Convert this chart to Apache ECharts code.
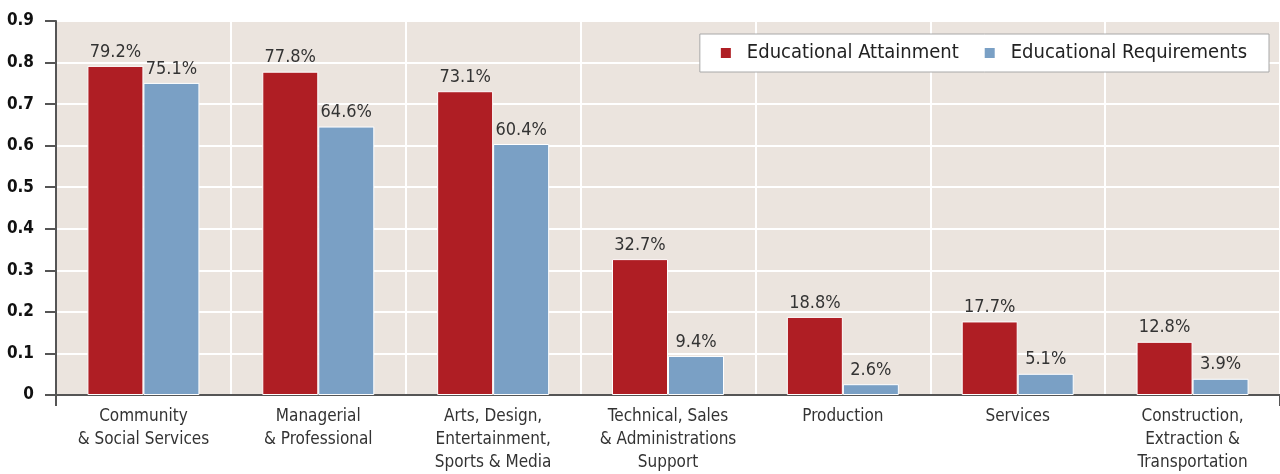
<!DOCTYPE html>
<html>
<head>
<meta charset="utf-8">
<script src="https://cdn.jsdelivr.net/npm/echarts@6/dist/echarts.min.js"></script>
<style>
  html, body { margin: 0; padding: 0; background: #ffffff; }
  #chart { width: 1280px; height: 474px; }
</style>
</head>
<body>
<div id="chart"></div>
<script>
// Occupation groups along the x axis
const categories = [
  'Community\n& Social Services',
  'Managerial\n& Professional',
  'Arts, Design,\nEntertainment,\nSports & Media',
  'Technical, Sales\n& Administrations\nSupport',
  'Production',
  'Services',
  'Construction,\nExtraction &\nTransportation'
];

// Share of workers (fraction) by series
const attainment = [0.792, 0.778, 0.731, 0.327, 0.188, 0.177, 0.128];
const requirements = [0.751, 0.646, 0.604, 0.094, 0.026, 0.051, 0.039];

const seriesNames = ['Educational Attainment', 'Educational Requirements'];

const FONT = '"DejaVu Sans Condensed", "Liberation Sans", sans-serif';
const RED = '#af1e24';
const BLUE = '#7aa0c5';

const chart = echarts.init(document.getElementById('chart'), null, { renderer: 'canvas' });

const pctLabel = {
  show: true,
  position: 'top',
  distance: 5,
  fontFamily: FONT,
  fontSize: 18,
  color: '#333333',
  formatter: p => (p.value * 100).toFixed(1) + '%'
};

chart.setOption({
  animation: false,
  backgroundColor: '#ffffff',
  textStyle: { fontFamily: FONT },
  grid: {
    left: 56,
    top: 21,
    right: -4,
    bottom: 78,
    show: true,
    backgroundColor: '#ebe4de',
    borderWidth: 0
  },
  legend: {
    data: seriesNames,
    right: 11,
    top: 34,
    orient: 'horizontal',
    backgroundColor: '#ffffff',
    borderColor: '#a8a8a8',
    borderWidth: 1,
    padding: [9, 22, 9, 19],
    itemWidth: 12,
    itemHeight: 12,
    itemGap: 24,
    icon: 'rect',
    textStyle: { fontFamily: FONT, fontSize: 20, color: '#222222', padding: [0, 0, 0, 10] }
  },
  xAxis: {
    type: 'category',
    data: categories,
    boundaryGap: true,
    axisLine: { show: true, lineStyle: { color: '#555555', width: 2 } },
    axisTick: {
      show: true,
      length: 11,
      interval: i => i === 0,
      lineStyle: { color: '#555555', width: 2 }
    },
    splitLine: { show: true, interval: 0, lineStyle: { color: '#ffffff', width: 2 } },
    axisLabel: {
      interval: 0,
      margin: 10,
      fontFamily: FONT,
      fontSize: 17,
      lineHeight: 23,
      color: '#333333'
    }
  },
  yAxis: {
    type: 'value',
    min: 0,
    max: 0.9,
    interval: 0.1,
    axisLine: { show: true, lineStyle: { color: '#555555', width: 2 } },
    axisTick: { show: true, length: 11, lineStyle: { color: '#555555', width: 2 } },
    splitLine: { show: true, lineStyle: { color: '#ffffff', width: 2 } },
    axisLabel: {
      margin: 22,
      fontFamily: FONT,
      fontSize: 17,
      fontWeight: 'bold',
      color: '#111111',
      formatter: v => (v === 0 ? '0' : v.toFixed(1))
    }
  },
  series: [
    {
      name: seriesNames[0],
      type: 'bar',
      data: attainment,
      barWidth: 56,
      barGap: '0%',
      itemStyle: { color: RED, borderColor: '#ffffff', borderWidth: 1 },
      label: pctLabel
    },
    {
      name: seriesNames[1],
      type: 'bar',
      data: requirements,
      barWidth: 56,
      barGap: '0%',
      itemStyle: { color: BLUE, borderColor: '#ffffff', borderWidth: 1 },
      label: pctLabel
    }
  ]
});
</script>
</body>
</html>
